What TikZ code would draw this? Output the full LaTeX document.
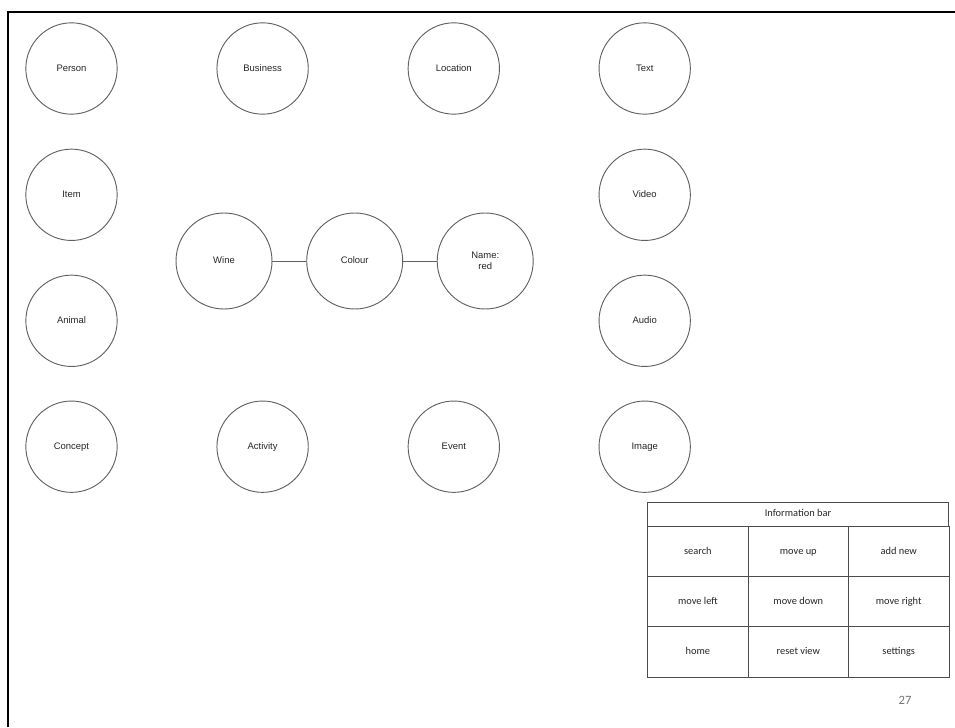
\documentclass[tikz,border=0pt]{standalone}
\usepackage{fontspec}
\setmainfont{Liberation Sans}
\newfontfamily\calib{Carlito}
\begin{document}
\begin{tikzpicture}[x=0.75pt,y=-0.75pt,
  ent/.style={circle,draw=black!62,line width=0.7pt,minimum size=68.5pt,inner sep=0pt,
    font=\fontsize{7.1pt}{8.4pt}\selectfont,text=black!85,align=center},
  one/.style={text height=5.2pt,text depth=1.4pt},
  big/.style={ent,minimum size=72pt},
  link/.style={draw=black!62,line width=0.7pt},
  cell/.style={draw=black!70,line width=0.6pt,minimum width=75.3pt,minimum height=37.6pt,inner sep=0pt,
    font=\calib\fontsize{7.8pt}{9pt}\selectfont,text=black!85,anchor=north west,
    text height=5.5pt,text depth=1.6pt},
  frame/.style={line width=1.7pt,draw=black}]
\useasboundingbox (0,0) rectangle (955,727);
\draw[frame] (8,727) -- (8,12) -- (955,12);
% grid circles
\node[ent,one] (person)   at (71.5,68.5)  {Person};
\node[ent,one] (business) at (262.6,68.5) {Business};
\node[ent,one] (location) at (453.8,68.5) {Location};
\node[ent,one] (text)     at (644.7,68.5) {Text};
\node[ent,one] (item)     at (71.5,194.8) {Item};
\node[ent,one] (video)    at (644.7,194.8) {Video};
\node[ent,one] (animal)   at (71.5,320.8) {Animal};
\node[ent,one] (audio)    at (644.7,320.8) {Audio};
\node[ent,one] (concept)  at (71.5,446.7) {Concept};
\node[ent,one] (activity) at (262.6,446.7) {Activity};
\node[ent,one] (event)    at (453.8,446.7) {Event};
\node[ent,one] (image)    at (644.7,446.7) {Image};
% middle chain
\node[big,one] (wine)   at (224,261) {Wine};
\node[big,one] (colour) at (354.7,261) {Colour};
\node[big] (name)   at (485.2,261) {Name:\\red};
\draw[link] (wine) -- (colour);
\draw[link] (colour) -- (name);
% information bar
\node[cell,minimum width=225.4pt,minimum height=18.2pt] (info) at (647.3,501.7) {Information bar};
\node[cell] (search)  at (647.3,526) {search};
\node[cell] (moveup)  at (747.7,526) {move up};
\node[cell] (addnew)  at (848.1,526) {add new};
\node[cell] (moveleft)  at (647.3,576.2) {move left};
\node[cell] (movedown)  at (747.7,576.2) {move down};
\node[cell] (moveright) at (848.1,576.2) {move right};
\node[cell] (home)      at (647.3,626.4) {home};
\node[cell] (reset)     at (747.7,626.4) {reset view};
\node[cell] (settings)  at (848.1,626.4) {settings};
\node[font=\calib\fontsize{9.5pt}{11pt}\selectfont,text=black!55] (page) at (905,700) {27};
\end{tikzpicture}
\end{document}
